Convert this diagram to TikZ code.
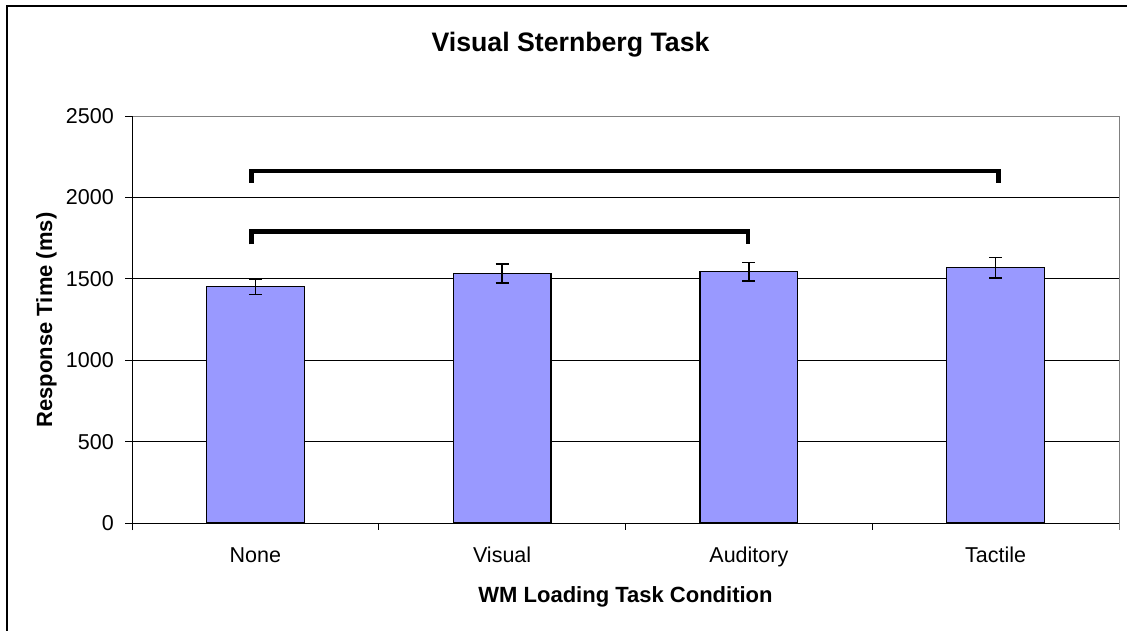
\documentclass[tikz,border=0pt]{standalone}
\usepackage{fontspec}
\setmainfont{Liberation Sans}
\definecolor{barfill}{HTML}{9999FF}
\begin{document}
\begin{tikzpicture}[x=1pt,y=1pt,
  lbl/.style={inner sep=0pt, font=\fontsize{21.5}{24}\selectfont},
  blbl/.style={inner sep=0pt, font=\fontsize{22}{25}\selectfont\bfseries},
  ttl/.style={inner sep=0pt, font=\fontsize{26.7}{30}\selectfont\bfseries},
  gridline/.style={black, line width=1pt},
  plotborder/.style={gray, line width=1pt},
  axisline/.style={black, line width=1pt},
  bar/.style={draw=black, fill=barfill, line width=1.1pt},
  errbar/.style={black, line width=1.3pt},
  bracket/.style={black, line width=4.5pt, line join=miter}]
\useasboundingbox (0,0) rectangle (1127,630);
\fill[white] (0,0) rectangle (1127,630);
% outer frame (right and bottom edges lie outside the image)
\draw[line width=2pt] (7,-20) -- (7,624) -- (1150,624);

\node[ttl, anchor=base] (title) at (570.5,578.3) {Visual Sternberg Task};
\node[blbl, rotate=90, anchor=base] (ylab) at (52,310) {Response Time (ms)};
\node[blbl, anchor=base] (xlab) at (625.5,28) {WM Loading Task Condition};

\begin{scope}[shift={(132pt,107pt)}, x=246.75pt, y=0.1628pt]
  % gridlines
  \foreach \v in {500,1000,1500,2000} \draw[gridline] (0,\v) -- (4,\v);
  \draw[plotborder] (0,2500) -- (4,2500) -- (4,0);
  % bars
  \foreach \i/\val/\err in {0/1450/48, 1/1533/58, 2/1544/58, 3/1568/63} {
    \draw[bar] (\i+0.302,0) rectangle (\i+0.698,\val);
    \draw[errbar] (\i+0.5,\val-\err) -- (\i+0.5,\val+\err);
    \draw[errbar] (\i+0.5,\val-\err) ++(-6.5pt,0pt) -- ++(13pt,0pt);
    \draw[errbar] (\i+0.5,\val+\err) ++(-6.5pt,0pt) -- ++(13pt,0pt);
  }
  % axes
  \draw[axisline] (0,0) -- (4,0);
  \draw[axisline] (0,0) ++(0pt,-7pt) -- (0,2500);
  \foreach \v in {0,500,1000,1500,2000,2500} {
    \draw[axisline] (0,\v) -- ++(-7pt,0pt);
    \node[lbl, anchor=east, xshift=-18pt] (t\v) at (0,\v) {\v};
  }
  \foreach \i in {1,2,3} \draw[axisline] (\i,0) -- ++(0pt,-7pt);
  \draw[plotborder] (4,0) -- ++(0pt,-7pt);
  % category labels
  \foreach \i/\name in {0/None, 1/Visual, 2/Auditory, 3/Tactile}
    \node[lbl, anchor=base, yshift=-39.7pt] (c\i) at (\i+0.5,0) {\name};
  % significance brackets
  \coordinate (ba1) at (0.485,2090);
  \coordinate (ba2) at (3.511,2090);
  \coordinate (bb1) at (0.485,1712);
  \coordinate (bb2) at (2.497,1712);
  \draw[bracket] (ba1) -- (0.485,2161) -- (3.511,2161) -- (ba2);
  \draw[bracket] (bb1) -- (0.485,1792) -- (2.497,1792) -- (bb2);
\end{scope}
\end{tikzpicture}
\end{document}
